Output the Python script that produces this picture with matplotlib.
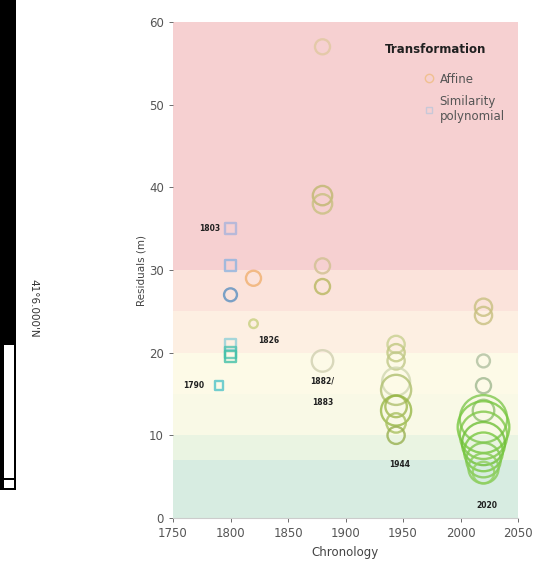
import matplotlib
matplotlib.use("Agg")
import matplotlib.pyplot as plt
from matplotlib.patches import Rectangle
from matplotlib.lines import Line2D

# ---------------- data ----------------
years = [1790, 1800, 1800, 1800, 1800, 1800, 1800,
         1820, 1820,
         1880, 1880, 1880, 1880, 1880, 1880,
         1944, 1944, 1944, 1944, 1944, 1944, 1944, 1944, 1944,
         2020, 2020, 2020, 2020, 2020, 2020, 2020, 2020, 2020, 2020, 2020, 2020, 2020]
residuals = [16.0, 35.0, 30.5, 27.0, 21.0, 20.0, 19.5,
             29.0, 23.5,
             57.0, 39.0, 38.0, 30.5, 28.0, 19.0,
             21.0, 20.0, 19.0, 16.5, 15.5, 13.5, 13.0, 11.5, 10.0,
             25.5, 24.5, 19.0, 16.0, 13.0, 12.0, 11.0, 10.0, 9.0, 8.0, 7.0, 6.0, 5.5]
weights = [4, 5, 5, 6, 5, 5, 5,
           7, 4,
           7, 9, 9, 7, 7, 10,
           8, 8, 8, 13, 14, 10, 14, 9, 8,
           8, 8, 6, 7, 10, 22, 24, 22, 20, 18, 16, 14, 10]
transform = ['S', 'S', 'S', 'A', 'S', 'S', 'S',
             'A', 'A',
             'A', 'A', 'A', 'A', 'A', 'A',
             'A', 'A', 'A', 'A', 'A', 'A', 'A', 'A', 'A',
             'A', 'A', 'A', 'A', 'A', 'A', 'A', 'A', 'A', 'A', 'A', 'A', 'A']
colors = ['#4fc3c8', '#a9b4dc', '#8fb4e0', '#5b8fc0', '#8fd0d8', '#4fc3b0', '#40c0a8',
          '#f0b070', '#c8d080',
          '#e0c8a0', '#c0b870', '#c8c080', '#d0c090', '#b8b860', '#d0d0b0',
          '#c8d090', '#c0c880', '#c0c888', '#d0d8b0', '#b0c070', '#a0b850', '#98b848', '#a8c060', '#98b050',
          '#c8c080', '#c8c080', '#b0c0a0', '#a0b890', '#90c070', '#80c850', '#78c840', '#80c848', '#70c038',
          '#78c840', '#80c850', '#88cc58', '#90d060']

labels = ['1803', '1790', '1826', '1882/', '1883', '1944', '2020']
label_x = [1782, 1768, 1833, 1880, 1880, 1947, 2023]
label_y = [35, 16, 21.5, 16.6, 14.0, 6.5, 1.5]

bands_lo = [0, 7, 10, 15, 20, 25, 30]
bands_hi = [7, 10, 15, 20, 25, 30, 60]
band_colors = ['#d7ece1', '#eaf4e2', '#f9f9e6', '#fdfae7', '#fdefe2', '#fbe3db', '#f6d0d1']

legend_title = 'Transformation'
legend_labels = ['Affine', 'Similarity\npolynomial']

# ---------------- figure ----------------
fig = plt.figure(figsize=(5.5, 5.79), dpi=100)
ax = fig.add_axes([173/550, 1 - 518/579, 345/550, 496/579])

for lo, hi, c in zip(bands_lo, bands_hi, band_colors):
    ax.axhspan(lo, hi, color=c, zorder=0, lw=0)

for yr, r, w, t, c in zip(years, residuals, weights, transform, colors):
    ax.scatter([yr], [r], s=w ** 2 * 2.4, marker='o' if t == 'A' else 's',
               facecolors='none', edgecolors=c, linewidths=1.7, alpha=0.8, zorder=3)

for txt, lx, ly in zip(labels, label_x, label_y):
    ax.text(lx, ly, txt, fontsize=5.5, fontweight='bold', color='#202020',
            ha='center', va='center', zorder=5)

ax.set_xlim(1750, 2050)
ax.set_ylim(0, 60)
ax.set_xticks([1750, 1800, 1850, 1900, 1950, 2000, 2050])
ax.set_yticks([0, 10, 20, 30, 40, 50, 60])
ax.tick_params(labelsize=8.5, colors='#555555', length=3, width=0.6)
for s in ax.spines.values():
    s.set_visible(False)
ax.spines['bottom'].set_visible(True)
ax.spines['bottom'].set_color('#cccccc')
ax.set_xlabel('Chronology', fontsize=8.5, color='#444444')
ax.set_ylabel('Residuals (m)', fontsize=7.5, color='#444444', labelpad=2)

ax.text(0.615, 0.945, legend_title, transform=ax.transAxes, fontsize=8.5,
        fontweight='bold', color='#202020', ha='left', va='center')
handles = [Line2D([], [], marker='o', ls='none', markerfacecolor='none',
                  markeredgecolor='#f0c090', markersize=6),
           Line2D([], [], marker='s', ls='none', markerfacecolor='none',
                  markeredgecolor='#c8c8d8', markersize=5)]
leg = ax.legend(handles, legend_labels, loc='upper left',
                bbox_to_anchor=(0.725, 0.898), frameon=False, fontsize=8.5,
                handletextpad=0.4, borderaxespad=0.0, borderpad=0.0,
                labelspacing=0.8, handlelength=1.0)
for t in leg.get_texts():
    t.set_color('#555555')

# map-like decoration on the left
fig.patches.append(Rectangle((0, 1 - 490/579), 16/550, 490/579, transform=fig.transFigure,
                             facecolor='black', edgecolor='none'))
fig.patches.append(Rectangle((4/550, 1 - 478/579), 10/550, 133/579, transform=fig.transFigure,
                             facecolor='white', edgecolor='none'))
fig.patches.append(Rectangle((4/550, 1 - 488/579), 10/550, 8/579, transform=fig.transFigure,
                             facecolor='white', edgecolor='none'))
fig.text(33/550, 1 - 308/579, "41°6.000'N", rotation=270, fontsize=7.5, color='#333333',
         ha='center', va='center')

fig.savefig('out.png', dpi=100)
